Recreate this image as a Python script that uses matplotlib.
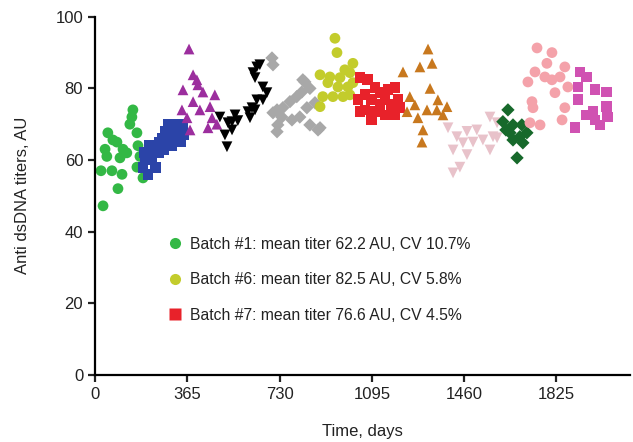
import matplotlib.pyplot as plt
from matplotlib.lines import Line2D

plt.rcParams['font.family'] = ['Liberation Sans', 'DejaVu Sans']

# Batch data: (days, titer AU)
b1_day = [32, 91, 24, 67, 107, 40, 51, 71, 87, 111, 126, 99, 47, 146, 150, 138, 166, 170, 166, 190, 178]
b1_val = [47.2, 52, 57, 57, 56, 63, 67.6, 65.6, 65, 63, 62, 60.6, 61, 72, 74, 70, 67.6, 64, 58, 55, 61]

b2_day = [190, 195, 200, 210, 215, 225, 230, 240, 250, 255, 265, 270, 280, 290, 300, 305, 315, 320, 330, 340, 345, 350]
b2_val = [58, 62, 60, 56, 64, 60, 63, 58, 62, 65, 66, 63, 68, 70, 67, 64, 70, 66, 68, 65, 70, 67]

b3_day = [372, 388, 403, 407, 348, 427, 474, 388, 415, 344, 455, 364, 463, 376, 447, 482]
b3_val = [91, 83.8, 82.4, 81, 79.6, 79, 78.2, 76.3, 74, 74, 74.9, 71.8, 71.8, 68.4, 69, 70]

b4_day = [494, 526, 514, 522, 565, 613, 633, 640, 633, 640, 652, 625, 664, 680, 664, 621, 605, 554, 542, 542]
b4_val = [72, 70.4, 67, 63.7, 71, 71.8, 74, 76.8, 83, 86, 86.6, 84.4, 80.4, 78.8, 76.8, 74.6, 73.5, 72.6, 70.7, 68.4]

b5_day = [700, 704, 830, 850, 818, 798, 771, 743, 720, 704, 739, 723, 720, 779, 810, 850, 882, 838, 870, 822, 890]
b5_val = [88.5, 86.6, 81.8, 80, 79, 77.7, 76.3, 74.6, 74, 73.2, 72, 69.8, 67.9, 71.2, 72, 69.8, 68.4, 74.6, 76, 82.4, 69]

b6_day = [949, 957, 1020, 988, 890, 929, 969, 1008, 921, 961, 1000, 901, 941, 981, 1008, 890, 1020]
b6_val = [94, 90, 87, 85.2, 83.8, 83.2, 83, 84.4, 81.6, 80.4, 80.4, 77.7, 77.7, 77.7, 78.2, 74.9, 81.6]

b7_day = [1048, 1079, 1107, 1068, 1040, 1095, 1127, 1159, 1186, 1147, 1174, 1198, 1068, 1107, 1147, 1186, 1206, 1095, 1048, 1127]
b7_val = [83, 82.4, 80.2, 78.2, 76.8, 76.8, 78.8, 79.6, 80.2, 76.8, 75.4, 76.8, 74, 73.5, 72.6, 72.6, 74.6, 71.2, 73.5, 75.4]

b8_day = [1317, 1285, 1333, 1218, 1325, 1245, 1265, 1356, 1392, 1352, 1313, 1277, 1234, 1297, 1293, 1376]
b8_val = [91, 86, 87, 84.6, 80, 77.7, 75.4, 76.8, 74.9, 74, 74, 71.8, 73.5, 68.4, 65, 72.6]

b9_day = [1396, 1431, 1471, 1510, 1562, 1455, 1495, 1534, 1416, 1443, 1471, 1562, 1590, 1590, 1574, 1416]
b9_val = [69, 66.5, 68, 68.4, 72, 64.8, 65, 65.6, 62.8, 58, 61.5, 62.8, 66.2, 70.4, 66.5, 56.4]

b10_day = [1633, 1613, 1653, 1688, 1641, 1680, 1708, 1653, 1692, 1669, 1625]
b10_val = [74, 70.7, 69.8, 69.8, 67.6, 66.5, 67.6, 65.6, 64.8, 60.6, 68.4]

b11_day = [1748, 1807, 1787, 1858, 1740, 1779, 1807, 1839, 1712, 1819, 1870, 1728, 1732, 1858, 1847, 1720, 1760]
b11_val = [91.3, 90, 87, 86, 84.6, 83.2, 82.4, 83.2, 81.8, 78.8, 80.4, 76.3, 74.6, 74.6, 71.2, 70.4, 69.8]

b12_day = [1918, 1945, 1910, 1977, 2024, 1910, 1969, 2024, 2028, 1977, 1997, 1898, 1945]
b12_val = [84.6, 83.2, 80.4, 79.6, 79, 76.8, 73.5, 74.9, 72, 71.2, 69.8, 69, 72.6]

x_ticks = [0, 365, 730, 1095, 1460, 1825]
y_ticks = [0, 20, 40, 60, 80, 100]

legend_labels = ['Batch #1: mean titer 62.2 AU, CV 10.7%',
                 'Batch #6: mean titer 82.5 AU, CV 5.8%',
                 'Batch #7: mean titer 76.6 AU, CV 4.5%']

batches = [
    (b1_day, b1_val, '#33b845', 'o'),
    (b2_day, b2_val, '#2b44a8', 's'),
    (b3_day, b3_val, '#9c2e9e', '^'),
    (b4_day, b4_val, '#000000', 'v'),
    (b5_day, b5_val, '#a8a8a8', 'D'),
    (b6_day, b6_val, '#c3cc2c', 'o'),
    (b7_day, b7_val, '#e8222a', 's'),
    (b8_day, b8_val, '#c8781e', '^'),
    (b9_day, b9_val, '#e8c2ca', 'v'),
    (b10_day, b10_val, '#17692b', 'D'),
    (b11_day, b11_val, '#f4a2aa', 'o'),
    (b12_day, b12_val, '#d052b2', 's'),
]

fig = plt.figure(figsize=(6.33, 4.42), dpi=100)
ax = fig.add_axes([0.150, 0.152, 0.845, 0.810])

for days, vals, col, mk in batches:
    size = 46 if mk == 'D' else 60
    ax.scatter(days, vals, s=size, c=col, marker=mk, edgecolors='none')

ax.set_xlim(0, 2115)
ax.set_ylim(0, 100)
ax.set_xticks(x_ticks)
ax.set_yticks(y_ticks)
ax.tick_params(labelsize=12, width=1.6, length=5, direction='out', colors='#222222')
for side in ['top', 'right']:
    ax.spines[side].set_visible(False)
for side in ['left', 'bottom']:
    ax.spines[side].set_linewidth(1.6)
ax.set_xlabel('Time, days', fontsize=12, color='#222222', labelpad=16)
ax.set_ylabel('Anti dsDNA titers, AU', fontsize=12, color='#222222', labelpad=18)

handles = [Line2D([], [], ls='', marker='o', ms=8, color='#33b845', mec='none'),
           Line2D([], [], ls='', marker='o', ms=8, color='#c3cc2c', mec='none'),
           Line2D([], [], ls='', marker='s', ms=8, color='#e8222a', mec='none')]
ax.legend(handles, legend_labels, loc='upper left', bbox_to_anchor=(0.105, 0.425),
          frameon=False, fontsize=11.3, labelspacing=1.3, handletextpad=0.4,
          handlelength=1.2, labelcolor='#222222')

fig.savefig('out.png', dpi=100)
